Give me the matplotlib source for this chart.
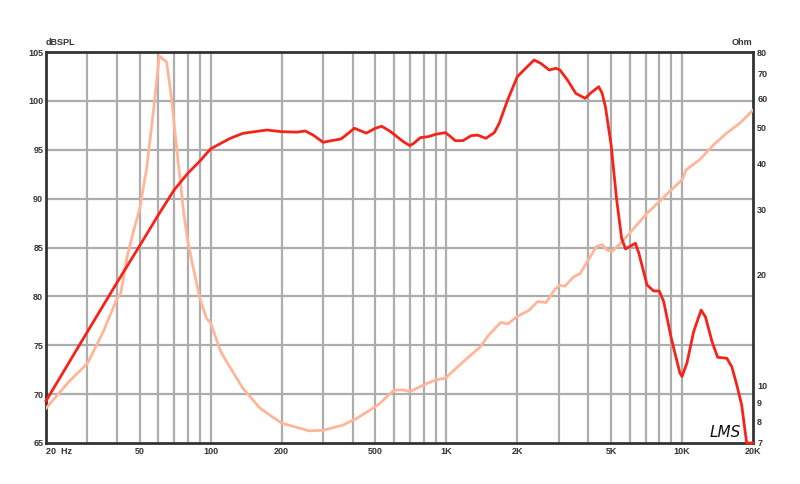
import numpy as np
import matplotlib.pyplot as plt
from matplotlib.ticker import FixedLocator, NullLocator

# SPL response (Hz, dB)
spl_f = [20, 30, 40, 50, 60, 70, 80, 90, 100, 121, 137, 173, 200, 232, 252, 272,
         300, 320, 357, 375, 407, 457, 500, 532, 576, 605, 656, 700, 727, 776,
         839, 900, 990, 1030, 1090, 1176, 1272, 1356, 1470, 1597, 1675, 1820,
         2000, 2169, 2355, 2514, 2731, 2918, 3033, 3263, 3540, 3880, 4080, 4430,
         4580, 4730, 5000, 5270, 5540, 5760, 6000, 6340, 6560, 7100, 7580, 8000,
         8360, 9000, 9800, 10000, 10490, 11200, 12050, 12570, 13400, 14160,
         15490, 16260, 17070, 17900, 18800, 20000]
spl_db = [69.3, 76.4, 81.4, 85.2, 88.35, 90.9, 92.6, 93.85, 95.1, 96.17, 96.68,
          97.02, 96.85, 96.8, 96.92, 96.5, 95.76, 95.9, 96.1, 96.5, 97.2, 96.7,
          97.2, 97.4, 96.9, 96.5, 95.83, 95.42, 95.66, 96.24, 96.34, 96.58, 96.75,
          96.44, 95.93, 95.93, 96.44, 96.5, 96.17, 96.75, 97.7, 100.1, 102.48,
          103.33, 104.18, 103.84, 103.16, 103.33, 103.16, 102.14, 100.77, 100.26,
          100.77, 101.45, 100.77, 99.4, 95.5, 90.03, 85.94, 84.85, 85.1, 85.43,
          84.4, 81.17, 80.55, 80.55, 79.46, 75.71, 72.13, 71.8, 73.2, 76.4, 78.6,
          77.9, 75.37, 73.77, 73.67, 72.8, 70.94, 68.9, 65.0, 65.0]

# impedance (Hz, Ohm)
imp_f = [20, 25, 30, 35, 40, 41.5, 44, 47.1, 50, 53.5, 57.1, 60.5, 65, 68.5,
         70.5, 77, 80, 84.4, 90, 96, 100, 109.5, 116, 137, 162, 200, 262, 300,
         365, 416, 500, 522, 600, 656, 700, 800, 900, 990, 1176, 1394, 1510,
         1703, 1820, 2000, 2240, 2440, 2650, 2880, 3033, 3190, 3460, 3690, 4000,
         4330, 4580, 4800, 5050, 5380, 6000, 7000, 8000, 9000, 10000, 10400,
         11880, 13620, 15490, 17630, 20000]
imp_ohm = [8.69, 10.25, 11.5, 14.0, 17.2, 17.8, 22.1, 26.3, 30.2, 38.8, 55.1,
           78.0, 75.2, 58.6, 48.6, 29.0, 24.5, 20.8, 17.2, 15.2, 14.8, 12.5,
           11.7, 9.84, 8.69, 7.92, 7.55, 7.58, 7.83, 8.16, 8.78, 8.96, 9.74,
           9.74, 9.64, 10.05, 10.37, 10.48, 11.6, 12.75, 13.7, 14.85, 14.7, 15.4,
           16.0, 16.9, 16.8, 18.2, 18.7, 18.6, 19.7, 20.1, 21.9, 23.8, 24.1,
           23.3, 23.1, 24.0, 25.9, 29.0, 31.5, 33.9, 36.1, 38.4, 40.9, 44.9,
           48.3, 51.4, 55.7]

xgrid = [30, 40, 50, 60, 70, 80, 90, 100, 200, 300, 400, 500, 600, 700, 800,
         900, 1000, 2000, 3000, 4000, 5000, 6000, 7000, 8000, 9000, 10000]
xticks = [20, 50, 100, 200, 500, 1000, 2000, 5000, 10000, 20000]
xlabels = ['20  Hz', '50', '100', '200', '500', '1K', '2K', '5K', '10K', '20K']
db_ticks = [65, 70, 75, 80, 85, 90, 95, 100, 105]
ohm_ticks = [7, 8, 9, 10, 20, 30, 40, 50, 60, 70, 80]

plt.rcParams['font.family'] = ['Liberation Sans', 'DejaVu Sans']
txt = dict(fontsize=6.5, fontweight='bold', color='#333333')

fig = plt.figure(figsize=(8, 4.84), dpi=100)
ax = fig.add_axes([46 / 800, 1 - 443 / 484, 707 / 800, 391 / 484])
ax.set_xscale('log')
ax.set_xlim(20, 20000)
ax.set_ylim(65, 105)

# grid drawn by hand so the minor decades get lines too
for f in xgrid:
    ax.axvline(f, color='#adadad', lw=1.6, zorder=1)
for d in db_ticks[1:-1]:
    ax.axhline(d, color='#adadad', lw=1.6, zorder=1)

ax.xaxis.set_major_locator(FixedLocator(xticks))
ax.xaxis.set_minor_locator(NullLocator())
ax.set_xticklabels(xlabels, **txt)
ax.set_yticks(db_ticks)
ax.set_yticklabels([str(d) for d in db_ticks], **txt)
ax.tick_params(axis='y', length=0, pad=2)
ax.tick_params(axis='x', length=0, pad=3)
ax.get_xticklabels()[0].set_horizontalalignment('left')
for s in ax.spines.values():
    s.set_linewidth(2)
    s.set_color('#333333')
    s.set_zorder(5)

# impedance on its own log axis
ax2 = ax.twinx()
ax2.set_yscale('log')
ax2.set_ylim(7, 80)
ax2.yaxis.set_major_locator(FixedLocator(ohm_ticks))
ax2.yaxis.set_minor_locator(NullLocator())
ax2.set_yticklabels([str(o) for o in ohm_ticks], **txt)
ax2.tick_params(length=0, pad=3)
for s in ax2.spines.values():
    s.set_visible(False)
ax2.plot(imp_f, imp_ohm, color='#ffb698', lw=2, zorder=3)

# SPL on top of everything
ax3 = ax.twinx()
ax3.set_ylim(65, 105)
ax3.axis('off')
ax3.plot(spl_f, spl_db, color='#f5231a', lw=2, zorder=6, clip_on=False)

fig.text(46 / 800, 1 - 47 / 484, 'dBSPL', ha='left', va='bottom', **txt)
fig.text(752 / 800, 1 - 47 / 484, 'Ohm', ha='right', va='bottom', **txt)
fig.text(710 / 800, 1 - 437 / 484, 'LMS', ha='left', va='baseline',
         fontsize=11, style='italic', color='#111111', family='DejaVu Sans',
         fontweight='light')

fig.savefig('out.png', dpi=100)
